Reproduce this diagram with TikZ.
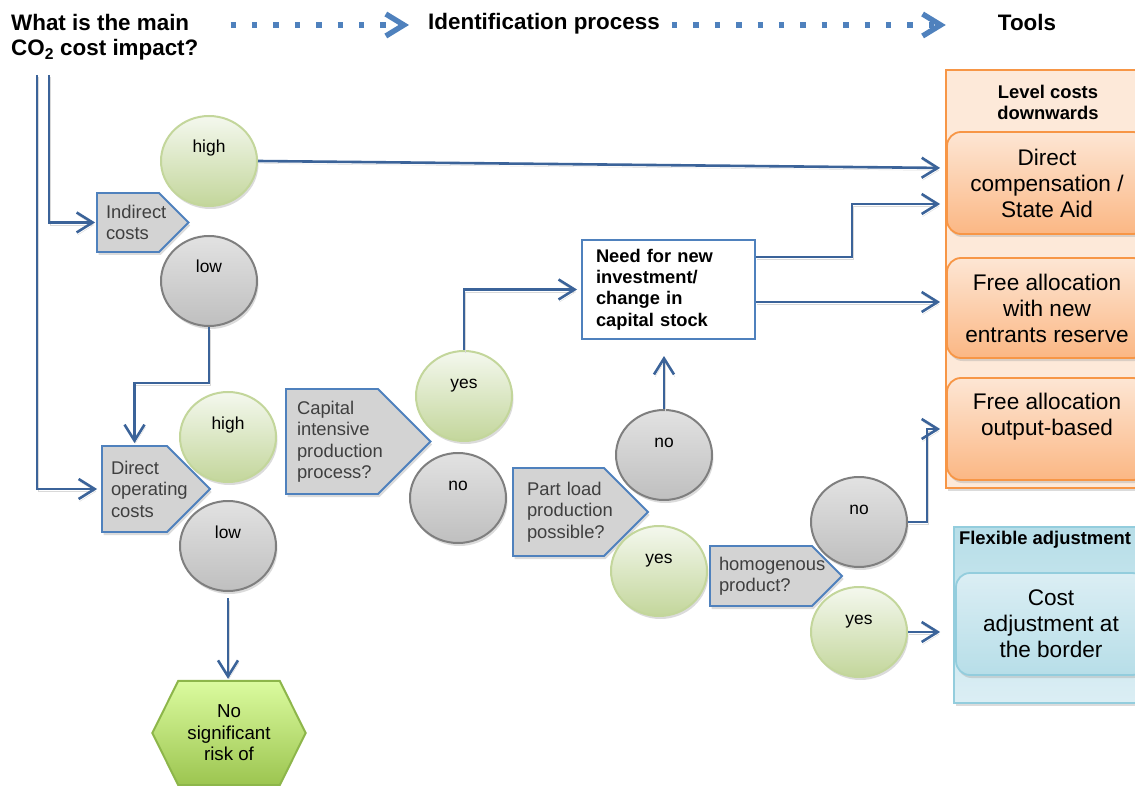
\documentclass[tikz,border=0pt]{standalone}
\usepackage{fontspec}
\setmainfont{Liberation Sans}
\usetikzlibrary{shapes.geometric,shapes.symbols,arrows.meta,shadows,calc,backgrounds}

\definecolor{lineblue}{HTML}{3B6399}
\definecolor{edgeblue}{HTML}{4F81BD}
\definecolor{shapegray}{HTML}{D3D3D3}
\definecolor{textgray}{HTML}{3F3F3F}
\definecolor{greentop}{HTML}{F4F8EE}
\definecolor{greenbot}{HTML}{C3D69B}
\definecolor{graytop}{HTML}{E2E2E2}
\definecolor{graybot}{HTML}{BFBFBF}
\definecolor{grayedge}{HTML}{7F7F7F}
\definecolor{hextop}{HTML}{DBFB9F}
\definecolor{hexbot}{HTML}{9CC550}
\definecolor{hexedge}{HTML}{8DB64A}
\definecolor{orangeedge}{HTML}{F79646}
\definecolor{orangefill}{HTML}{FDE9D9}
\definecolor{orangetop}{HTML}{FDE6D4}
\definecolor{orangebot}{HTML}{FBB784}
\definecolor{cyanedge}{HTML}{93CDDD}
\definecolor{cyantop}{HTML}{B7DEE8}
\definecolor{cyanbot}{HTML}{DBEEF4}

\tikzset{
  softshadow/.style={drop shadow={shadow xshift=1.5pt,shadow yshift=-3pt,fill=black!35,opacity=.4}},
  conn/.style={draw=lineblue, line width=2.6pt, -{Straight Barb[length=16pt,width=20pt]},
    preaction={draw=black!15, transform canvas={xshift=1pt,yshift=-2.5pt}}},
  dotline/.style={draw=edgeblue, line width=5.4pt, dash pattern=on 5.4pt off 16pt,
    -{Straight Barb[length=18pt,width=22pt]}},
  hdr/.style={font=\bfseries\fontsize{22.4}{25}\selectfont, inner sep=0pt},
  decision/.style={ellipse, line width=2pt, minimum width=96pt, minimum height=90pt,
    font=\fontsize{17.4}{20}\selectfont, text height=12pt, text depth=28pt, inner sep=0pt, softshadow},
  yescirc/.style={decision, draw=greenbot, top color=greentop, bottom color=greenbot},
  nocirc/.style={decision, draw=grayedge, top color=graytop, bottom color=graybot},
  askbox/.style={signal, signal to=east, signal pointer angle=90, draw=edgeblue, line width=1.8pt,
    fill=shapegray, text=textgray, font=\fontsize{18.4}{21.5}\selectfont, align=left, inner sep=0pt,
    execute at begin node={\hyphenpenalty=10000\exhyphenpenalty=10000}, softshadow},
  needbox/.style={draw=edgeblue, line width=2pt, fill=white, font=\bfseries\fontsize{18.3}{21.3}\selectfont,
    align=left, text width=145pt, inner xsep=14pt, minimum height=99pt},
  grouptitle/.style={font=\bfseries\fontsize{18.4}{21}\selectfont, align=center, inner sep=0pt},
  levelbox/.style={draw=orangeedge, fill=orangefill, line width=2.5pt, softshadow},
  toolbox/.style={rounded corners=14pt, draw=orangeedge, line width=1.8pt, top color=orangetop,
    bottom color=orangebot, minimum width=200pt, minimum height=102pt,
    font=\fontsize{22.6}{26}\selectfont, align=center, softshadow},
  flexbox/.style={draw=cyanedge, line width=2pt, top color=cyantop, bottom color=cyanbot, softshadow},
  costbox/.style={toolbox, draw=cyanedge, top color=cyanbot, bottom color=cyantop},
  hexbox/.style={minimum width=153pt, minimum height=104pt, inner sep=0pt,
    font=\fontsize{18.7}{21.5}\selectfont, align=center}
}

\begin{document}
\begin{tikzpicture}[x=1pt,y=-1pt]
  \useasboundingbox (0,0) rectangle (1135,786);
  \clip (0,0) rectangle (1135,786);

  % header
  \node[hdr, anchor=west, align=left] (question) at (11,37) {What is the main\\CO\textsubscript{2} cost impact?};
  \node[hdr, anchor=west] (ident) at (428,24) {Identification process};
  \node[hdr] (tools) at (1027,22) {Tools};
  \draw[dotline] ($(question.east |- ident.west)+(32,1)$) -- ($(ident.west)+(-19,1)$);
  \draw[dotline] ($(ident.east)+(12,1)$) -- ($(tools.west)+(-52,3)$);

  % tools
  \node[levelbox, minimum width=204pt, minimum height=418pt] (level) at (1048,279) {};
  \node[grouptitle] (leveltitle) at (1048,102.5) {Level costs\\downwards};
  \node[toolbox] (dircomp) at (1047,183) {Direct\\compensation /\\State Aid};
  \node[toolbox, minimum height=100pt] (freenew) at (1047,308) {Free allocation\\with new\\entrants reserve};
  \node[toolbox, text depth=30pt] (freeout) at (1047,429) {Free allocation\\output-based};
  \node[flexbox, minimum width=186pt, minimum height=176pt] (flex) at (1047,615) {};
  \node[grouptitle] (flextitle) at (1045,540) {Flexible adjustment};
  \node[costbox, minimum width=190pt] (cost) at (1051,624) {Cost\\adjustment at\\the border};

  % questions
  \node[askbox, text width=44pt, minimum width=91.5pt, minimum height=59pt] (indirect) at (128,222.5) {Indirect\\costs};
  \node[askbox, text width=47pt, minimum width=108pt, minimum height=86pt] (directop) at (134.5,489) {Direct\\operating\\costs};
  \node[askbox, text width=70pt, minimum width=144.5pt, minimum height=105pt] (capital) at (332,441.5) {Capital\\intensive\\production\\process?};
  \node[askbox, text width=63pt, minimum width=135pt, minimum height=88pt] (partload) at (558.5,512) {Part~load\\production\\possible?};
  \node[askbox, text width=84pt, minimum width=132pt, minimum height=60pt] (homog) at (761,576) {homogenous\\product?};
  \node[needbox] (need) at (668.5,289.5) {Need for new\\investment/\\change in\\capital stock};

  % answers
  \node[yescirc] (high1) at (209,161) {high};
  \node[nocirc] (low1) at (209,281) {low};
  \node[yescirc] (high2) at (228,437) {high};
  \node[nocirc] (low2) at (228,546) {low};
  \node[yescirc] (capyes) at (464,396) {yes};
  \node[nocirc] (capno) at (458,498) {no};
  \node[nocirc] (plno) at (664,455) {no};
  \node[yescirc] (plyes) at (659,571) {yes};
  \node[nocirc] (hno) at (859,522) {no};
  \node[yescirc] (hyes) at (859,632) {yes};

  \node[hexbox] (nosig) at (229,733) {No\\significant\\risk of};
  \begin{scope}[on background layer]
    \path[draw=hexedge, line width=2pt, top color=hextop, bottom color=hexbot]
      (nosig.west) -- ($(nosig.north west)+(26,0)$) -- ($(nosig.north east)+(-26,0)$) -- (nosig.east)
      -- ($(nosig.south east)+(-26,0)$) -- ($(nosig.south west)+(26,0)$) -- cycle;
  \end{scope}

  % connectors
  \coordinate (qa) at (49,75);
  \coordinate (qb) at (37,75);
  \draw[conn, shorten >=1pt] (qa) |- (indirect.west);
  \draw[conn, shorten >=4pt] (qb) |- (directop.west);
  \draw[conn, shorten >=6pt] (high1.east) -- ($(dircomp.west)+(0,-15)$);
  \draw[conn, shorten >=2pt] (low1.south) -- ++(0,56) -| (directop.north);
  \draw[conn, shorten <=6pt, shorten >=2pt] (low2.south) -- (low2.south |- nosig.north);
  \draw[conn, shorten >=4pt] (capyes.north) |- (need.west);
  \draw[conn, shorten >=6pt] ($(need.east)+(0,-32.5)$) -- ++(96,0) |- ($(dircomp.west)+(0,21)$);
  \draw[conn, shorten >=6pt] ($(need.east)+(0,12.5)$) -- ($(freenew.west)+(0,-6)$);
  \draw[conn, shorten >=16pt] (plno.north) -- (plno.north |- need.south);
  \draw[conn, shorten >=6pt] (hno.east) -- ++(19,0) |- (freeout.west);
  \draw[conn, shorten >=6pt] (hyes.east) -- (hyes.east -| freeout.west);

\end{tikzpicture}
\end{document}
